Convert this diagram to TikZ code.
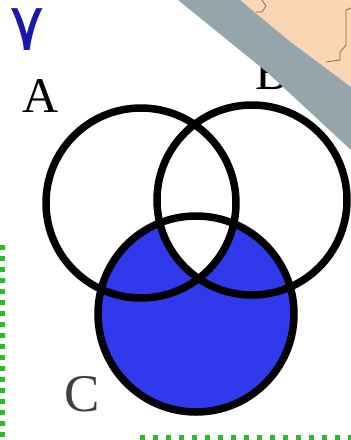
\documentclass[tikz,border=0pt]{standalone}
\usepackage{fontspec}
\setmainfont{Liberation Serif}
\newfontfamily\arabicfont[Script=Arabic]{DejaVu Sans}
\definecolor{vblue}{RGB}{48,58,236}
\definecolor{dblue}{RGB}{25,25,170}
\definecolor{peach}{RGB}{250,214,180}
\definecolor{bandgrey}{RGB}{148,166,172}
\definecolor{mapline}{RGB}{150,100,60}
\definecolor{gborder}{RGB}{40,190,40}
\tikzset{
  ring/.style={draw=black, line width=7.5pt},
  lbl/.style={inner sep=0pt, font=\fontsize{50}{50}\selectfont},
}
\begin{document}
\begin{tikzpicture}[x=1pt,y=-1pt]
\useasboundingbox (0,0) rectangle (351,440);
\fill[white] (0,0) rectangle (351,440);
% green border remnants
\draw[gborder, line width=5pt, dash pattern=on 5pt off 6pt] (2,245) -- (2,440);
\draw[gborder, line width=5pt, dash pattern=on 5pt off 8pt] (140,437) -- (351,437);
% labels
\node[inner sep=0pt, text=dblue, font=\fontsize{66}{66}\selectfont] (seven) at (27,30) {\arabicfont ٧};
\node[lbl] (la) at (41,96) {A};
\node[lbl] (lb) at (272,73) {B};
\node[lbl, text=black!75, font=\fontsize{53}{53}\selectfont] (lc) at (82,394) {C};
% regions
\fill[vblue] (196,314) circle (98);
\begin{scope}
  \clip (141,203) circle (95);
  \clip (252,200) circle (95);
  \fill[white] (196,314) circle (98);
\end{scope}
\node[ring, circle, minimum size=190pt, inner sep=0pt] (A) at (141,203) {};
\node[ring, circle, minimum size=190pt, inner sep=0pt] (B) at (252,200) {};
\node[ring, circle, minimum size=196pt, inner sep=0pt] (C) at (196,314) {};
% corner: peach page and grey band
\fill[peach] (240,0) -- (351,0) -- (351,87) -- (288,40) -- cycle;
\draw[mapline, line width=0.8pt] (262,0) -- (266,6) -- (262,12) -- (256,12);
\draw[mapline, line width=0.8pt] (351,8) -- (346,10) -- (346,45) -- (340,52) -- (340,60) -- (326,62);
\fill[bandgrey] (178,0) -- (240,0) -- (288,40) -- (351,87) -- (351,150) -- (268,73) -- cycle;
\end{tikzpicture}
\end{document}
